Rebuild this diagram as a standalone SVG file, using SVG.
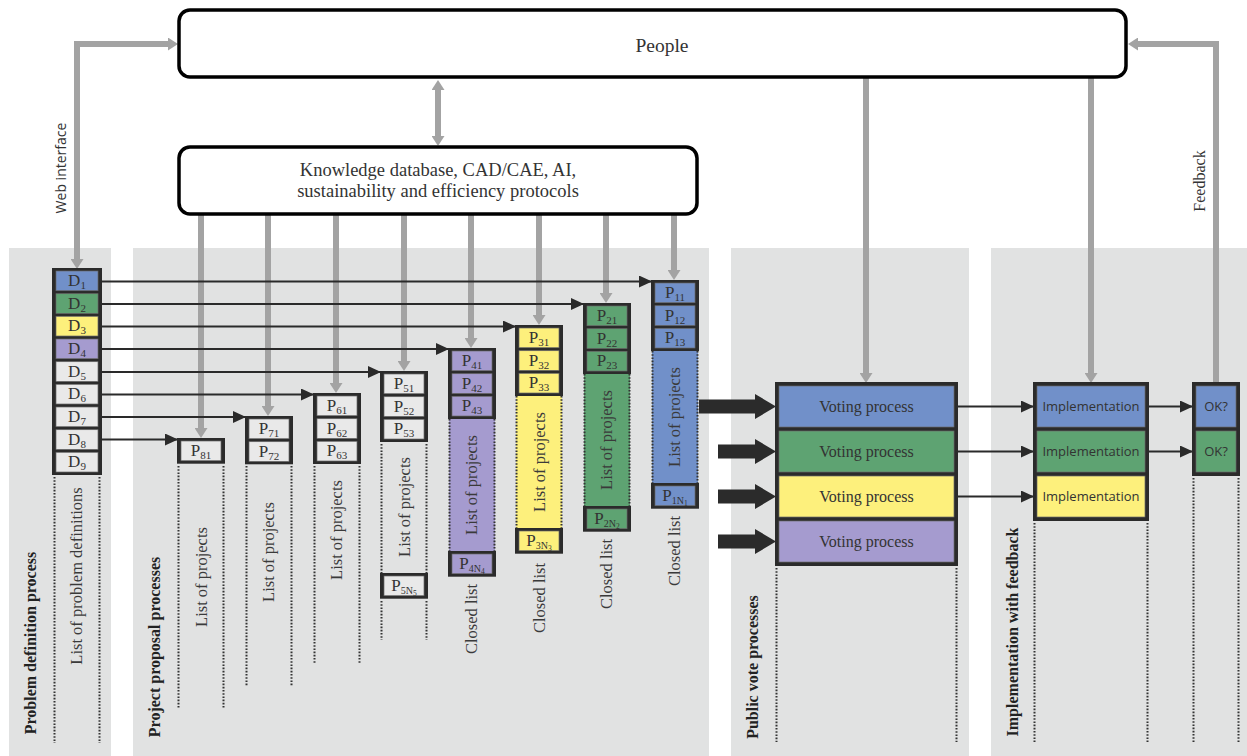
<svg xmlns="http://www.w3.org/2000/svg" width="1247" height="756" viewBox="0 0 1247 756">
<defs>
<style>
.panel{fill:#e1e2e2}
.frame{fill:#2b2b2b}
.cell{stroke:#6a6a6a;stroke-width:0.7}
.blue{fill:#7190c9}.green{fill:#5ea372}.yellow{fill:#fdf07c}.purple{fill:#a59bcf}.grey{fill:#e9e9e9}
.t{font-family:"Liberation Serif","DejaVu Serif",serif;fill:#333}
.lbl{font-family:"Liberation Serif","DejaVu Serif",serif;fill:#3a3a3a;font-size:16.5px;text-anchor:middle}
.bold{font-family:"Liberation Serif","DejaVu Serif",serif;fill:#222;font-size:16px;font-weight:bold;text-anchor:middle}
.ct{font-size:17px;text-anchor:middle}
.dot{stroke:#333;stroke-width:2;stroke-dasharray:1.6 1.6;fill:none}
.garrow{stroke:#a3a3a3;stroke-width:6;fill:none}
.karrow{stroke:#2a2a2a;stroke-width:2;fill:none;marker-end:url(#kh)}
.big{fill:#2b2b2b}
.box{fill:#fff;stroke:#000;stroke-width:3.5}
.sans{font-family:"Open Sans","Liberation Sans",sans-serif;fill:#333}
</style>
<marker id="gh" markerUnits="userSpaceOnUse" markerWidth="10" markerHeight="13" refX="0" refY="6.5" orient="auto-start-reverse">
<path d="M0,0 L10,6.5 L0,13 z" fill="#a3a3a3"/>
</marker>
<marker id="kh" markerUnits="userSpaceOnUse" markerWidth="13" markerHeight="12" refX="12" refY="6" orient="auto">
<path d="M0,0 L13,6 L0,12 z" fill="#2a2a2a"/>
</marker>
</defs>

<g id="panels">
<rect class="panel" x="9" y="248" width="102" height="508"/>
<rect class="panel" x="133" y="248" width="576" height="508"/>
<rect class="panel" x="731" y="248" width="238" height="508"/>
<rect class="panel" x="991" y="248" width="256" height="508"/>
</g>

<g id="connectors">
<path class="garrow" d="M77,259 V44 H168" marker-start="url(#gh)" marker-end="url(#gh)"/>
<path class="garrow" d="M1216,382 V44 H1138" marker-end="url(#gh)"/>
<path class="garrow" d="M438,90 V136" marker-start="url(#gh)" marker-end="url(#gh)"/>
<path class="garrow" d="M866,78 V373" marker-end="url(#gh)"/>
<path class="garrow" d="M1091,78 V373" marker-end="url(#gh)"/>
<path class="garrow" d="M201,214 V428" marker-end="url(#gh)"/>
<path class="garrow" d="M268,214 V406" marker-end="url(#gh)"/>
<path class="garrow" d="M336,214 V383" marker-end="url(#gh)"/>
<path class="garrow" d="M404,214 V361" marker-end="url(#gh)"/>
<path class="garrow" d="M471,214 V338" marker-end="url(#gh)"/>
<path class="garrow" d="M539,214 V315" marker-end="url(#gh)"/>
<path class="garrow" d="M606,214 V293" marker-end="url(#gh)"/>
<path class="garrow" d="M674,214 V270" marker-end="url(#gh)"/>
<path class="karrow" d="M102,281.5 H651"/>
<path class="karrow" d="M102,304 H583"/>
<path class="karrow" d="M102,326.5 H515"/>
<path class="karrow" d="M102,349 H448"/>
<path class="karrow" d="M102,372 H380"/>
<path class="karrow" d="M102,394.5 H313"/>
<path class="karrow" d="M102,417 H245"/>
<path class="karrow" d="M102,439.5 H177"/>
<polygon class="big" points="699,399.5 755,399.5 755,394 776,406.5 755,419 755,413.5 699,413.5"/>
<polygon class="big" points="718,444.5 755,444.5 755,439 776,451.5 755,464 755,458.5 718,458.5"/>
<polygon class="big" points="718,489.5 755,489.5 755,484 776,496.5 755,509 755,503.5 718,503.5"/>
<polygon class="big" points="718,534.5 755,534.5 755,529 776,541.5 755,554 755,548.5 718,548.5"/>
<path class="karrow" d="M958,406.5 H1033"/>
<path class="karrow" d="M958,451.5 H1033"/>
<path class="karrow" d="M958,496.5 H1033"/>
<path class="karrow" d="M1149,406.5 H1192"/>
<path class="karrow" d="M1149,451.5 H1192"/>
</g>

<g id="people">
<rect class="box" x="179" y="10" width="947" height="67" rx="11"/>
<text class="t" x="662" y="52" font-size="19.5" text-anchor="middle">People</text>
</g>

<g id="knowledge">
<rect class="box" x="179" y="147" width="518" height="67" rx="11"/>
<text class="t" x="438" y="176" font-size="18.5" text-anchor="middle">Knowledge database, CAD/CAE, AI,</text>
<text class="t" x="438" y="197" font-size="18.5" text-anchor="middle">sustainability and efficiency protocols</text>
</g>

<g id="web-interface-label">
<text class="sans" transform="translate(61,168) rotate(-90)" font-size="14" text-anchor="middle" dy="0.35em">Web interface</text>
</g>
<g id="feedback-label">
<text class="t" transform="translate(1199,181) rotate(-90)" font-size="16" text-anchor="middle" dy="0.35em">Feedback</text>
</g>

<g id="problem-definitions">
<rect class="frame" x="52" y="268" width="50" height="207"/>
<rect class="cell blue" x="56" y="271" width="42" height="19.7"/>
<rect class="cell green" x="56" y="293.7" width="42" height="19.7"/>
<rect class="cell yellow" x="56" y="316.3" width="42" height="19.7"/>
<rect class="cell purple" x="56" y="339" width="42" height="19.7"/>
<rect class="cell grey" x="56" y="361.7" width="42" height="19.7"/>
<rect class="cell grey" x="56" y="384.3" width="42" height="19.7"/>
<rect class="cell grey" x="56" y="407" width="42" height="19.7"/>
<rect class="cell grey" x="56" y="429.7" width="42" height="19.7"/>
<rect class="cell grey" x="56" y="452.3" width="42" height="19.7"/>
<g class="t ct">
<text x="77" y="286">D<tspan font-size="11" dy="3">1</tspan></text>
<text x="77" y="308.7">D<tspan font-size="11" dy="3">2</tspan></text>
<text x="77" y="331.3">D<tspan font-size="11" dy="3">3</tspan></text>
<text x="77" y="354">D<tspan font-size="11" dy="3">4</tspan></text>
<text x="77" y="376.7">D<tspan font-size="11" dy="3">5</tspan></text>
<text x="77" y="399.3">D<tspan font-size="11" dy="3">6</tspan></text>
<text x="77" y="422">D<tspan font-size="11" dy="3">7</tspan></text>
<text x="77" y="444.7">D<tspan font-size="11" dy="3">8</tspan></text>
<text x="77" y="467.3">D<tspan font-size="11" dy="3">9</tspan></text>
</g>
<path class="dot" d="M54.5,477 V743 M99.5,477 V743"/>
<text class="lbl" transform="translate(76,576) rotate(-90)" dy="0.35em">List of problem definitions</text>
<text class="bold" transform="translate(30,643) rotate(-90)" dy="0.35em">Problem definition process</text>
</g>

<g id="project-proposals-label">
<text class="bold" transform="translate(154,647) rotate(-90)" dy="0.35em">Project proposal processes</text>
</g>

<g id="p8">
<rect class="frame" x="177" y="438" width="48" height="25.7"/>
<rect class="cell grey" x="181" y="441" width="40" height="19.7"/>
<text class="t ct" x="201" y="456">P<tspan font-size="11" dy="3">81</tspan></text>
<path class="dot" d="M178.5,466 V708 M223.5,466 V708"/>
<text class="lbl" transform="translate(201,577) rotate(-90)" dy="0.35em">List of projects</text>
</g>

<g id="p7">
<rect class="frame" x="245" y="416" width="48" height="48.3"/>
<rect class="cell grey" x="249" y="419" width="40" height="19.7"/>
<rect class="cell grey" x="249" y="441.7" width="40" height="19.7"/>
<text class="t ct" x="269" y="434">P<tspan font-size="11" dy="3">71</tspan></text>
<text class="t ct" x="269" y="456.7">P<tspan font-size="11" dy="3">72</tspan></text>
<path class="dot" d="M246.5,466 V686 M291.5,466 V686"/>
<text class="lbl" transform="translate(268,552) rotate(-90)" dy="0.35em">List of projects</text>
</g>

<g id="p6">
<rect class="frame" x="313" y="393" width="48" height="71"/>
<rect class="cell grey" x="317" y="396" width="40" height="19.7"/>
<rect class="cell grey" x="317" y="418.7" width="40" height="19.7"/>
<rect class="cell grey" x="317" y="441.3" width="40" height="19.7"/>
<text class="t ct" x="337" y="411">P<tspan font-size="11" dy="3">61</tspan></text>
<text class="t ct" x="337" y="433.7">P<tspan font-size="11" dy="3">62</tspan></text>
<text class="t ct" x="337" y="456.3">P<tspan font-size="11" dy="3">63</tspan></text>
<path class="dot" d="M314.5,466 V663 M359.5,466 V663"/>
<text class="lbl" transform="translate(336,530) rotate(-90)" dy="0.35em">List of projects</text>
</g>

<g id="p5">
<rect class="frame" x="380" y="371" width="48" height="71"/>
<rect class="cell grey" x="384" y="374" width="40" height="19.7"/>
<rect class="cell grey" x="384" y="396.7" width="40" height="19.7"/>
<rect class="cell grey" x="384" y="419.3" width="40" height="19.7"/>
<text class="t ct" x="404" y="389">P<tspan font-size="11" dy="3">51</tspan></text>
<text class="t ct" x="404" y="411.7">P<tspan font-size="11" dy="3">52</tspan></text>
<text class="t ct" x="404" y="434.3">P<tspan font-size="11" dy="3">53</tspan></text>
<path class="dot" d="M381.5,444 V573 M426.5,444 V573 M381.5,601 V640 M426.5,601 V640"/>
<rect class="frame" x="380" y="573" width="48" height="25.7"/>
<rect class="cell grey" x="384" y="576" width="40" height="19.7"/>
<text class="t ct" x="404" y="591">P<tspan font-size="10" dy="3">5N</tspan><tspan font-size="7.5" dy="2">5</tspan></text>
<text class="lbl" transform="translate(404,507) rotate(-90)" dy="0.35em">List of projects</text>
</g>

<g id="p4">
<rect class="purple" x="449" y="419" width="46" height="132"/>
<path class="dot" d="M449.5,419 V551 M494.5,419 V551"/>
<rect class="frame" x="448" y="348" width="48" height="71"/>
<rect class="cell purple" x="452" y="351" width="40" height="19.7"/>
<rect class="cell purple" x="452" y="373.7" width="40" height="19.7"/>
<rect class="cell purple" x="452" y="396.3" width="40" height="19.7"/>
<text class="t ct" x="472" y="366">P<tspan font-size="11" dy="3">41</tspan></text>
<text class="t ct" x="472" y="388.7">P<tspan font-size="11" dy="3">42</tspan></text>
<text class="t ct" x="472" y="411.3">P<tspan font-size="11" dy="3">43</tspan></text>
<rect class="frame" x="448" y="551" width="48" height="25.7"/>
<rect class="cell purple" x="452" y="554" width="40" height="19.7"/>
<text class="t ct" x="472" y="569">P<tspan font-size="10" dy="3">4N</tspan><tspan font-size="7.5" dy="2">4</tspan></text>
<text class="lbl" transform="translate(471,485) rotate(-90)" dy="0.35em">List of projects</text>
<text class="lbl" transform="translate(471,619) rotate(-90)" dy="0.35em">Closed list</text>
</g>

<g id="p3">
<rect class="yellow" x="516" y="396" width="46" height="132"/>
<path class="dot" d="M516.5,396 V528 M561.5,396 V528"/>
<rect class="frame" x="515" y="325" width="48" height="71"/>
<rect class="cell yellow" x="519" y="328" width="40" height="19.7"/>
<rect class="cell yellow" x="519" y="350.7" width="40" height="19.7"/>
<rect class="cell yellow" x="519" y="373.3" width="40" height="19.7"/>
<text class="t ct" x="539" y="343">P<tspan font-size="11" dy="3">31</tspan></text>
<text class="t ct" x="539" y="365.7">P<tspan font-size="11" dy="3">32</tspan></text>
<text class="t ct" x="539" y="388.3">P<tspan font-size="11" dy="3">33</tspan></text>
<rect class="frame" x="515" y="528" width="48" height="25.7"/>
<rect class="cell yellow" x="519" y="531" width="40" height="19.7"/>
<text class="t ct" x="539" y="546">P<tspan font-size="10" dy="3">3N</tspan><tspan font-size="7.5" dy="2">3</tspan></text>
<text class="lbl" transform="translate(539,462) rotate(-90)" dy="0.35em">List of projects</text>
<text class="lbl" transform="translate(539,598) rotate(-90)" dy="0.35em">Closed list</text>
</g>

<g id="p2">
<rect class="green" x="584" y="374" width="46" height="132"/>
<path class="dot" d="M584.5,374 V506 M629.5,374 V506"/>
<rect class="frame" x="583" y="303" width="48" height="71"/>
<rect class="cell green" x="587" y="306" width="40" height="19.7"/>
<rect class="cell green" x="587" y="328.7" width="40" height="19.7"/>
<rect class="cell green" x="587" y="351.3" width="40" height="19.7"/>
<text class="t ct" x="607" y="321">P<tspan font-size="11" dy="3">21</tspan></text>
<text class="t ct" x="607" y="343.7">P<tspan font-size="11" dy="3">22</tspan></text>
<text class="t ct" x="607" y="366.3">P<tspan font-size="11" dy="3">23</tspan></text>
<rect class="frame" x="583" y="506" width="48" height="25.7"/>
<rect class="cell green" x="587" y="509" width="40" height="19.7"/>
<text class="t ct" x="607" y="524">P<tspan font-size="10" dy="3">2N</tspan><tspan font-size="7.5" dy="2">2</tspan></text>
<text class="lbl" transform="translate(606,440) rotate(-90)" dy="0.35em">List of projects</text>
<text class="lbl" transform="translate(606,574) rotate(-90)" dy="0.35em">Closed list</text>
</g>

<g id="p1">
<rect class="blue" x="652" y="351" width="46" height="132"/>
<path class="dot" d="M652.5,351 V483 M697.5,351 V483"/>
<rect class="frame" x="651" y="280" width="48" height="71"/>
<rect class="cell blue" x="655" y="283" width="40" height="19.7"/>
<rect class="cell blue" x="655" y="305.7" width="40" height="19.7"/>
<rect class="cell blue" x="655" y="328.3" width="40" height="19.7"/>
<text class="t ct" x="675" y="298">P<tspan font-size="11" dy="3">11</tspan></text>
<text class="t ct" x="675" y="320.7">P<tspan font-size="11" dy="3">12</tspan></text>
<text class="t ct" x="675" y="343.3">P<tspan font-size="11" dy="3">13</tspan></text>
<rect class="frame" x="651" y="483" width="48" height="25.7"/>
<rect class="cell blue" x="655" y="486" width="40" height="19.7"/>
<text class="t ct" x="675" y="501">P<tspan font-size="10" dy="3">1N</tspan><tspan font-size="7.5" dy="2">1</tspan></text>
<text class="lbl" transform="translate(674,417) rotate(-90)" dy="0.35em">List of projects</text>
<text class="lbl" transform="translate(674,551) rotate(-90)" dy="0.35em">Closed list</text>
</g>

<g id="voting">
<rect class="frame" x="775" y="382" width="183" height="184"/>
<rect class="cell blue" x="779" y="386" width="175" height="41"/>
<rect class="cell green" x="779" y="431" width="175" height="41"/>
<rect class="cell yellow" x="779" y="476" width="175" height="41"/>
<rect class="cell purple" x="779" y="521" width="175" height="41"/>
<g class="t" font-size="16" text-anchor="middle">
<text x="866.5" y="412">Voting process</text>
<text x="866.5" y="457">Voting process</text>
<text x="866.5" y="502">Voting process</text>
<text x="866.5" y="547">Voting process</text>
</g>
<path class="dot" d="M776.5,568 V742 M956.5,568 V742"/>
<text class="bold" transform="translate(752,667) rotate(-90)" dy="0.35em">Public vote processes</text>
</g>

<g id="implementation">
<rect class="frame" x="1033" y="382" width="116" height="139"/>
<rect class="cell blue" x="1037" y="386" width="108" height="41"/>
<rect class="cell green" x="1037" y="431" width="108" height="41"/>
<rect class="cell yellow" x="1037" y="476" width="108" height="41"/>
<g class="sans" font-size="13" text-anchor="middle">
<text x="1091" y="411">Implementation</text>
<text x="1091" y="456">Implementation</text>
<text x="1091" y="501">Implementation</text>
</g>
<path class="dot" d="M1034.5,523 V742 M1147.5,523 V742"/>
<text class="bold" transform="translate(1012,632) rotate(-90)" dy="0.35em">Implementation with feedback</text>
</g>

<g id="ok">
<rect class="frame" x="1192" y="382" width="48" height="94"/>
<rect class="cell blue" x="1196" y="386" width="40" height="41"/>
<rect class="cell green" x="1196" y="431" width="40" height="41"/>
<g class="sans" font-size="13" text-anchor="middle">
<text x="1216" y="411">OK?</text>
<text x="1216" y="456">OK?</text>
</g>
<path class="dot" d="M1193.5,478 V742 M1238.5,478 V742"/>
</g>
</svg>
